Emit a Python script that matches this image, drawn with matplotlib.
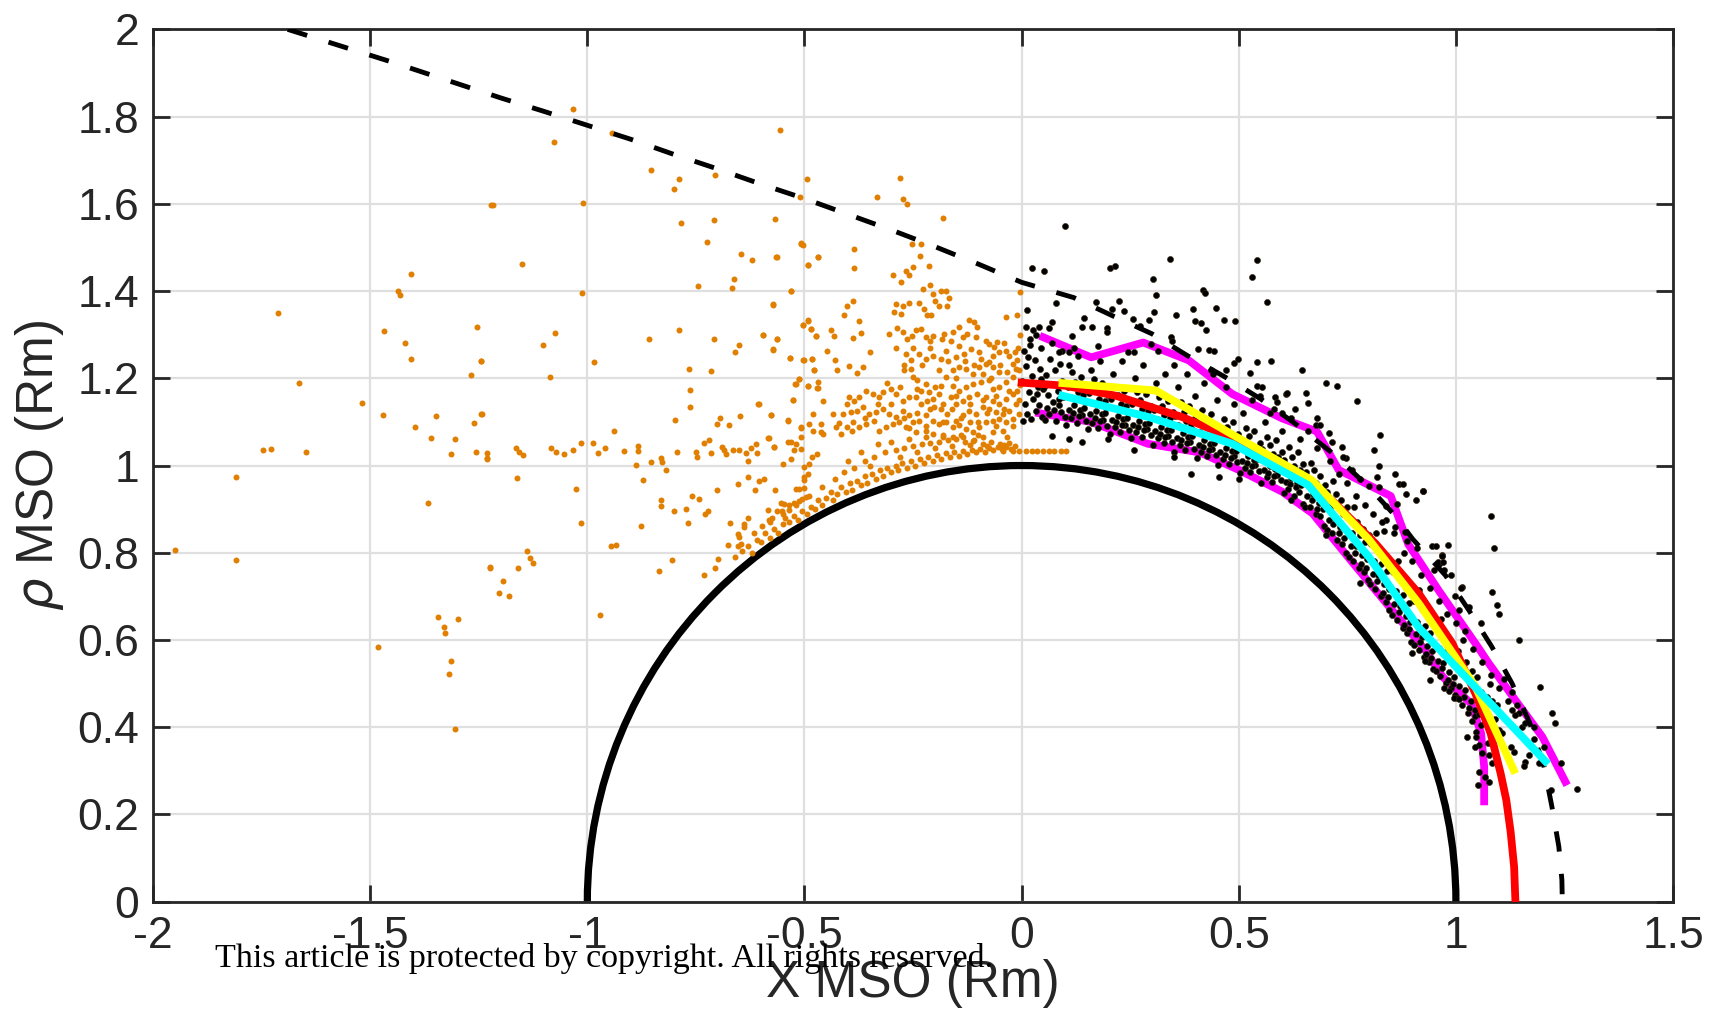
import numpy as np
import matplotlib
matplotlib.use('Agg')
import matplotlib.pyplot as plt
from matplotlib.patches import Arc

plt.rcParams['font.family'] = ['Liberation Sans', 'DejaVu Sans']
plt.rcParams['axes.unicode_minus'] = False
plt.rcParams['mathtext.fontset'] = 'dejavusans'

# ---- axis ticks ----
xticks = [-2, -1.5, -1, -0.5, 0, 0.5, 1, 1.5]
xticklabels = ['-2', '-1.5', '-1', '-0.5', '0', '0.5', '1', '1.5']
yticks = [0, 0.2, 0.4, 0.6, 0.8, 1, 1.2, 1.4, 1.6, 1.8, 2]
yticklabels = ['0', '0.2', '0.4', '0.6', '0.8', '1', '1.2', '1.4', '1.6', '1.8', '2']

# ---- planet radius (Rm) ----
planet_r = 1.0

# ---- bow shock model (dashed) ----
bs_x = [-1.69, -1.45, -1.20, -1.10, -1.00, -0.90, -0.80, -0.70, -0.60, -0.50, -0.40,
        -0.30, -0.20, -0.10, 0.00, 0.12, 0.21, 0.30, 0.38, 0.47, 0.55, 0.63, 0.72,
        0.80, 0.86, 0.90, 0.976, 1.03, 1.083, 1.129, 1.17, 1.203, 1.221, 1.237, 1.244, 1.245]
bs_y = [2.00, 1.925, 1.843, 1.812, 1.780, 1.748, 1.713, 1.680, 1.645, 1.612, 1.576,
        1.540, 1.502, 1.462, 1.420, 1.385, 1.343, 1.302, 1.253, 1.202, 1.153, 1.096, 1.025,
        0.950, 0.885, 0.832, 0.748, 0.668, 0.584, 0.501, 0.41, 0.309, 0.218, 0.126, 0.05, 0.0]

# ---- magnetopause model (red) ----
mp_x = [0.0, 0.1, 0.217, 0.37, 0.5, 0.57, 0.669, 0.72, 0.815, 0.915, 0.992, 1.045,
        1.080, 1.103, 1.116, 1.126, 1.134, 1.137]
mp_y = [1.19, 1.183, 1.160, 1.111, 1.057, 1.02, 0.958, 0.915, 0.821, 0.706, 0.592, 0.477,
        0.386, 0.294, 0.233, 0.160, 0.080, 0.0]

# ---- binned boundary fits ----
mag_up_x = [0.05, 0.16, 0.28, 0.385, 0.485, 0.60, 0.68, 0.73, 0.85, 0.89, 0.96, 1.045,
            1.076, 1.137, 1.199, 1.252]
mag_up_y = [1.294, 1.248, 1.282, 1.241, 1.164, 1.108, 1.078, 0.99, 0.93, 0.82, 0.714, 0.592,
            0.546, 0.462, 0.378, 0.275]
mag_lo_x = [0.04, 0.16, 0.29, 0.41, 0.50, 0.60, 0.67, 0.76, 0.93, 0.97, 1.035, 1.058, 1.065, 1.065]
mag_lo_y = [1.12, 1.10, 1.05, 1.03, 0.99, 0.94, 0.89, 0.78, 0.576, 0.515, 0.454, 0.386, 0.31, 0.23]
yel_x = [0.094, 0.309, 0.669, 0.80, 0.915, 1.045, 1.133]
yel_y = [1.189, 1.172, 0.966, 0.83, 0.683, 0.493, 0.302]
cyan_x = [0.094, 0.293, 0.485, 0.66, 0.80, 0.915, 1.206]
cyan_y = [1.160, 1.111, 1.050, 0.955, 0.79, 0.628, 0.322]

# ---- orange crossings (nightside), sparse points ----
orange_sparse = np.array([
    [-1.713, 1.350], [-1.406, 1.439], [-1.435, 1.399], [-1.432, 1.391], [-1.468, 1.308],
    [-1.419, 1.281], [-1.406, 1.245], [-1.255, 1.318], [-1.245, 1.240], [-1.268, 1.208],
    [-1.665, 1.190], [-1.519, 1.143], [-1.470, 1.115], [-1.348, 1.113], [-1.397, 1.088],
    [-1.360, 1.062], [-1.305, 1.061], [-1.262, 1.097], [-1.244, 1.117], [-1.314, 1.027],
    [-1.257, 1.031], [-1.230, 1.028], [-1.230, 1.016], [-1.747, 1.036], [-1.728, 1.037],
    [-1.647, 1.031], [-1.810, 0.973], [-1.367, 0.913], [-1.950, 0.807], [-1.810, 0.784],
    [-1.225, 0.767], [-1.345, 0.652], [-1.297, 0.648], [-1.331, 0.630], [-1.327, 0.617],
    [-1.482, 0.585], [-1.313, 0.553], [-1.318, 0.523], [-1.304, 0.395], [-1.221, 1.597],
    [-1.034, 1.818], [-1.077, 1.741], [-0.943, 1.762], [-0.854, 1.677], [-0.790, 1.657],
    [-0.800, 1.635], [-0.707, 1.667], [-0.556, 1.769], [-0.494, 1.656], [-0.510, 1.615],
    [-1.218, 1.598], [-1.009, 1.601], [-0.784, 1.556], [-0.709, 1.564], [-0.567, 1.566],
    [-0.725, 1.512], [-0.508, 1.510], [-0.504, 1.505], [-0.470, 1.479], [-0.491, 1.460],
    [-0.646, 1.485], [-0.620, 1.471], [-0.565, 1.478], [-1.150, 1.461], [-0.745, 1.411],
    [-0.663, 1.428], [-0.666, 1.406], [-0.530, 1.401], [-1.013, 1.395], [-0.573, 1.369],
    [-0.504, 1.322], [-0.492, 1.333], [-0.485, 1.314], [-0.474, 1.297], [-1.074, 1.304],
    [-1.103, 1.276], [-0.857, 1.289], [-0.788, 1.311], [-0.709, 1.289], [-0.596, 1.299],
    [-0.564, 1.289], [-0.573, 1.267], [-0.650, 1.276], [-0.661, 1.260], [-1.245, 1.240],
    [-0.984, 1.237], [-1.087, 1.202], [-0.765, 1.221], [-0.715, 1.216], [-0.534, 1.246],
    [-0.503, 1.241], [-0.482, 1.245], [-0.478, 1.219], [-0.512, 1.198], [-0.521, 1.186],
    [-0.491, 1.183], [-0.471, 1.178], [-0.764, 1.173], [-0.764, 1.135], [-0.527, 1.150],
    [-0.608, 1.140], [-1.243, 1.118], [-0.798, 1.104], [-0.694, 1.108], [-0.702, 1.096],
    [-0.674, 1.092], [-0.649, 1.113], [-0.577, 1.115], [-0.537, 1.104], [-0.508, 1.086],
    [-0.938, 1.079], [-1.230, 1.017], [-1.164, 1.040], [-1.157, 1.032], [-1.148, 1.024],
    [-1.084, 1.041], [-1.072, 1.030], [-1.054, 1.026], [-1.034, 1.035], [-1.015, 1.051],
    [-0.988, 1.052], [-0.976, 1.028], [-0.959, 1.040], [-0.916, 1.033], [-0.883, 1.045],
    [-0.884, 1.034], [-0.887, 1.002], [-0.854, 1.009], [-0.831, 1.017], [-0.828, 1.009],
    [-0.820, 0.989], [-0.794, 1.030], [-0.749, 1.032], [-0.748, 1.019], [-0.732, 1.052],
    [-0.719, 1.059], [-0.716, 1.029], [-0.690, 1.042], [-0.685, 1.035], [-0.681, 1.027],
    [-0.664, 1.035], [-0.650, 1.035], [-0.635, 1.029], [-0.629, 1.011], [-0.622, 1.041],
    [-0.612, 1.050], [-0.610, 1.029], [-0.583, 1.064], [-0.571, 1.042], [-0.539, 1.054],
    [-0.524, 1.036], [-0.549, 1.003], [-0.531, 1.016], [-0.520, 1.050], [-0.508, 1.038],
    [-0.501, 0.996], [-0.489, 1.004], [-0.482, 1.019], [-0.472, 1.027],
    [-1.162, 0.971], [-1.025, 0.946], [-0.872, 0.967], [-1.015, 0.868], [-0.877, 0.861],
    [-0.946, 0.815], [-0.934, 0.817], [-1.140, 0.803], [-1.131, 0.788], [-1.126, 0.777],
    [-1.224, 0.766], [-1.160, 0.766], [-1.194, 0.736], [-1.204, 0.707], [-1.181, 0.701],
    [-0.970, 0.658], [-0.830, 0.922], [-0.831, 0.908], [-0.801, 0.895], [-0.773, 0.900],
    [-0.768, 0.869], [-0.758, 0.931], [-0.742, 0.924], [-0.723, 0.895], [-0.728, 0.888],
    [-0.701, 0.945], [-0.654, 0.957], [-0.629, 0.974], [-0.614, 0.944], [-0.604, 0.964],
    [-0.593, 0.968], [-0.569, 0.944], [-0.584, 0.897], [-0.581, 0.874], [-0.575, 0.880],
    [-0.598, 0.861], [-0.617, 0.846], [-0.631, 0.880], [-0.640, 0.867], [-0.639, 0.859],
    [-0.671, 0.869], [-0.654, 0.842], [-0.650, 0.836], [-0.646, 0.821], [-0.654, 0.816],
    [-0.675, 0.818], [-0.699, 0.785], [-0.707, 0.766], [-0.731, 0.750], [-0.804, 0.784],
    [-0.834, 0.759], [-0.554, 0.914], [-0.547, 0.911], [-0.535, 0.909], [-0.524, 0.913],
    [-0.512, 0.919], [-0.505, 0.924], [-0.497, 0.928], [-0.512, 0.947], [-0.501, 0.949],
    [-0.520, 0.947], [-0.493, 0.981], [-0.501, 0.974], [-0.501, 0.966], [-0.551, 0.896],
    [-0.535, 0.897], [-0.564, 0.896],
    [-0.279, 1.660], [-0.274, 1.612], [-0.264, 1.600], [-0.334, 1.615], [-0.181, 1.567],
    [-0.252, 1.509],
])

# ---- orange dense cloud near the terminator ----
orange_cloud = np.array([
    [-0.508, 1.508], [-0.564, 1.477], [-0.468, 1.479], [-0.491, 1.460], [-0.386, 1.496],
    [-0.386, 1.453], [-0.530, 1.401], [-0.573, 1.370], [-0.297, 1.437], [-0.267, 1.447],
    [-0.251, 1.456], [-0.259, 1.437], [-0.277, 1.420], [-0.231, 1.509], [-0.234, 1.481],
    [-0.214, 1.458], [-0.228, 1.404], [-0.211, 1.414], [-0.205, 1.393], [-0.200, 1.378],
    [-0.185, 1.401], [-0.175, 1.401], [-0.168, 1.384], [-0.171, 1.366], [-0.190, 1.366],
    [-0.290, 1.370], [-0.274, 1.366], [-0.260, 1.373], [-0.293, 1.351], [-0.278, 1.347],
    [-0.236, 1.373], [-0.224, 1.359], [-0.217, 1.346], [-0.209, 1.344], [-0.389, 1.378],
    [-0.401, 1.366], [-0.410, 1.346], [-0.374, 1.332], [-0.369, 1.303], [-0.389, 1.292],
    [-0.439, 1.311], [-0.431, 1.296], [-0.447, 1.263], [-0.504, 1.323], [-0.493, 1.332],
    [-0.485, 1.314], [-0.474, 1.296], [-0.595, 1.299], [-0.563, 1.289], [-0.573, 1.266],
    [-0.534, 1.246], [-0.502, 1.242], [-0.483, 1.244], [-0.478, 1.220], [-0.429, 1.241],
    [-0.424, 1.220], [-0.397, 1.228], [-0.378, 1.212], [-0.366, 1.226], [-0.349, 1.260],
    [-0.520, 1.187], [-0.512, 1.199], [-0.491, 1.182], [-0.468, 1.191], [-0.470, 1.177],
    [-0.527, 1.150], [-0.458, 1.147], [-0.604, 1.141], [-0.577, 1.115], [-0.537, 1.103],
    [-0.508, 1.088], [-0.489, 1.096], [-0.481, 1.079], [-0.462, 1.076], [-0.508, 1.065],
    [-0.531, 1.054], [-0.570, 1.042], [-0.581, 1.063],
    [-0.305, 1.302], [-0.286, 1.315], [-0.273, 1.305], [-0.263, 1.290], [-0.253, 1.298],
    [-0.244, 1.311], [-0.232, 1.313], [-0.221, 1.294], [-0.211, 1.286], [-0.205, 1.298],
    [-0.184, 1.290], [-0.178, 1.302], [-0.163, 1.286], [-0.158, 1.305], [-0.144, 1.318],
    [-0.136, 1.294], [-0.121, 1.334], [-0.109, 1.328], [-0.102, 1.318], [-0.125, 1.302],
    [-0.106, 1.294], [-0.083, 1.286], [-0.075, 1.279], [-0.063, 1.271], [-0.056, 1.283],
    [-0.040, 1.280], [-0.037, 1.263], [-0.052, 1.260], [-0.067, 1.252], [-0.075, 1.237],
    [-0.098, 1.260], [-0.094, 1.244], [-0.117, 1.267], [-0.132, 1.256], [-0.144, 1.275],
    [-0.152, 1.248], [-0.175, 1.263], [-0.186, 1.244], [-0.205, 1.252], [-0.221, 1.244],
    [-0.236, 1.256], [-0.255, 1.241], [-0.267, 1.256], [-0.270, 1.218], [-0.255, 1.221],
    [-0.251, 1.202], [-0.240, 1.195], [-0.221, 1.187], [-0.232, 1.172], [-0.213, 1.168],
    [-0.205, 1.153], [-0.190, 1.164], [-0.186, 1.183], [-0.175, 1.202], [-0.159, 1.218],
    [-0.144, 1.225], [-0.129, 1.221], [-0.113, 1.210], [-0.098, 1.225], [-0.083, 1.233],
    [-0.067, 1.225], [-0.052, 1.214], [-0.033, 1.214], [-0.021, 1.233], [-0.010, 1.241],
    [-0.014, 1.221], [-0.021, 1.202], [-0.037, 1.191], [-0.052, 1.179], [-0.067, 1.176],
    [-0.075, 1.195], [-0.094, 1.191], [-0.113, 1.187], [-0.129, 1.179], [-0.144, 1.172],
    [-0.159, 1.183], [-0.163, 1.157], [-0.152, 1.141], [-0.136, 1.149], [-0.121, 1.157],
    [-0.102, 1.164], [-0.083, 1.157], [-0.067, 1.149], [-0.052, 1.141], [-0.037, 1.153],
    [-0.021, 1.164], [-0.010, 1.172], [-0.014, 1.141], [-0.029, 1.126], [-0.044, 1.118],
    [-0.060, 1.122], [-0.075, 1.130], [-0.090, 1.134], [-0.106, 1.118], [-0.121, 1.126],
    [-0.136, 1.115], [-0.152, 1.103], [-0.171, 1.118], [-0.186, 1.130], [-0.201, 1.134],
    [-0.217, 1.149], [-0.232, 1.141], [-0.244, 1.157], [-0.259, 1.157], [-0.274, 1.149],
    [-0.290, 1.164], [-0.301, 1.176], [-0.320, 1.168], [-0.328, 1.157], [-0.343, 1.164],
    [-0.359, 1.172], [-0.374, 1.157], [-0.385, 1.149], [-0.397, 1.157], [-0.401, 1.141],
    [-0.393, 1.122], [-0.378, 1.126], [-0.366, 1.134], [-0.351, 1.118], [-0.336, 1.122],
    [-0.320, 1.130], [-0.305, 1.118], [-0.290, 1.111], [-0.274, 1.126], [-0.259, 1.115],
    [-0.251, 1.099], [-0.236, 1.103], [-0.221, 1.115], [-0.205, 1.103], [-0.190, 1.096],
    [-0.175, 1.099], [-0.159, 1.088], [-0.144, 1.092], [-0.129, 1.084], [-0.113, 1.077],
    [-0.098, 1.088], [-0.083, 1.099], [-0.067, 1.103], [-0.052, 1.107], [-0.037, 1.099],
    [-0.021, 1.107], [-0.006, 1.118], [-0.412, 1.118], [-0.420, 1.097], [-0.435, 1.118],
    [-0.428, 1.088], [-0.416, 1.073], [-0.401, 1.088], [-0.389, 1.099], [-0.374, 1.088],
    [-0.359, 1.096], [-0.340, 1.103], [-0.328, 1.080], [-0.313, 1.088], [-0.297, 1.096],
    [-0.282, 1.099], [-0.267, 1.088], [-0.244, 1.077], [-0.221, 1.080], [-0.205, 1.073],
    [-0.182, 1.065], [-0.159, 1.065], [-0.136, 1.065], [-0.113, 1.057], [-0.090, 1.065],
    [-0.067, 1.077], [-0.044, 1.080], [-0.033, 1.065], [-0.481, 1.118], [-0.462, 1.096],
    [-0.458, 1.073], [-0.004, 1.397], [-0.037, 1.340], [-0.010, 1.344], [-0.004, 1.300],
    [-0.008, 1.270], [-0.003, 1.185],
    [-0.290, 1.270], [-0.270, 1.230], [-0.250, 1.270], [-0.230, 1.230], [-0.210, 1.270],
    [-0.190, 1.220], [-0.170, 1.240], [-0.150, 1.200], [-0.130, 1.240], [-0.110, 1.230],
    [-0.090, 1.210], [-0.070, 1.200], [-0.050, 1.230], [-0.030, 1.250], [-0.015, 1.260],
    [-0.005, 1.220], [-0.005, 1.150], [-0.030, 1.170], [-0.060, 1.160], [-0.090, 1.150],
    [-0.120, 1.140], [-0.150, 1.160], [-0.180, 1.140], [-0.210, 1.130], [-0.240, 1.120],
    [-0.270, 1.110], [-0.300, 1.140], [-0.330, 1.140], [-0.360, 1.110], [-0.390, 1.080],
    [-0.310, 1.190], [-0.280, 1.180], [-0.240, 1.175], [-0.200, 1.180], [-0.160, 1.130],
    [-0.120, 1.100], [-0.080, 1.120], [-0.040, 1.130], [-0.020, 1.090], [-0.060, 1.090],
    [-0.100, 1.100], [-0.140, 1.110], [-0.180, 1.100], [-0.220, 1.090], [-0.260, 1.085],
])

# ---- orange band hugging the planet ----
orange_band = np.array([
    [-0.660, 0.790], [-0.645, 0.805], [-0.630, 0.815], [-0.620, 0.800], [-0.610, 0.830],
    [-0.600, 0.825], [-0.590, 0.845], [-0.580, 0.835], [-0.570, 0.855], [-0.560, 0.845],
    [-0.550, 0.865], [-0.545, 0.880], [-0.535, 0.870], [-0.525, 0.885], [-0.515, 0.875],
    [-0.505, 0.895], [-0.495, 0.890], [-0.485, 0.905], [-0.475, 0.900], [-0.470, 0.920],
    [-0.460, 0.910], [-0.450, 0.925], [-0.440, 0.940], [-0.435, 0.920], [-0.425, 0.935],
    [-0.415, 0.950], [-0.405, 0.940], [-0.395, 0.960], [-0.390, 0.945], [-0.380, 0.965],
    [-0.370, 0.955], [-0.360, 0.975], [-0.355, 0.960], [-0.345, 0.980], [-0.335, 0.970],
    [-0.325, 0.990], [-0.320, 0.975], [-0.310, 0.995], [-0.300, 0.985], [-0.290, 1.000],
    [-0.285, 0.990], [-0.275, 1.005], [-0.265, 0.995], [-0.255, 1.010], [-0.245, 1.000],
    [-0.235, 1.015], [-0.225, 1.005], [-0.215, 1.020], [-0.205, 1.010], [-0.195, 1.025],
    [-0.185, 1.015], [-0.175, 1.028], [-0.165, 1.020], [-0.155, 1.030], [-0.145, 1.022],
    [-0.135, 1.033], [-0.125, 1.026], [-0.115, 1.036], [-0.105, 1.030], [-0.095, 1.038],
    [-0.085, 1.032], [-0.075, 1.040], [-0.065, 1.035], [-0.055, 1.042], [-0.045, 1.037],
    [-0.035, 1.043], [-0.025, 1.038], [-0.015, 1.044],
    [-0.580, 0.870], [-0.550, 0.890], [-0.520, 0.910], [-0.490, 0.930], [-0.460, 0.950],
    [-0.430, 0.970], [-0.410, 0.985], [-0.385, 0.995], [-0.360, 1.010], [-0.340, 1.020],
    [-0.315, 1.030], [-0.290, 1.035], [-0.270, 1.040], [-0.250, 1.045], [-0.230, 1.050],
    [-0.210, 1.052], [-0.190, 1.055], [-0.170, 1.058], [-0.150, 1.060], [-0.130, 1.055],
    [-0.110, 1.058], [-0.090, 1.050], [-0.070, 1.055], [-0.050, 1.050], [-0.030, 1.052],
    [-0.400, 1.010], [-0.370, 1.030], [-0.330, 1.050], [-0.300, 1.055], [-0.260, 1.060],
    [-0.220, 1.065], [-0.180, 1.070], [-0.140, 1.070], [-0.100, 1.070], [-0.350, 1.000],
    [-0.280, 1.020], [-0.240, 1.030], [-0.200, 1.040], [-0.160, 1.045], [-0.120, 1.047],
    [-0.080, 1.045], [-0.040, 1.046],
    [-0.044, 1.034], [-0.021, 1.034], [-0.006, 1.034], [0.009, 1.034], [0.025, 1.033],
    [0.036, 1.034], [0.050, 1.033], [0.062, 1.034], [0.075, 1.033], [0.090, 1.034],
    [0.102, 1.033],
])

# ---- black crossings (dayside), scattered points ----
black_sparse = np.array([
    [0.100, 1.550], [0.023, 1.454], [0.052, 1.445], [0.203, 1.453], [0.215, 1.458],
    [0.341, 1.473], [0.303, 1.427], [0.309, 1.391], [0.541, 1.472], [0.530, 1.433],
    [0.566, 1.376], [0.418, 1.403], [0.422, 1.395], [0.394, 1.358], [0.448, 1.362],
    [0.466, 1.334], [0.491, 1.331], [0.399, 1.332], [0.412, 1.326], [0.424, 1.311],
    [0.356, 1.345], [0.305, 1.351], [0.293, 1.334], [0.257, 1.337], [0.272, 1.321],
    [0.224, 1.378], [0.209, 1.359], [0.236, 1.354], [0.171, 1.376], [0.144, 1.338],
    [0.138, 1.317], [0.163, 1.318], [0.196, 1.315], [0.197, 1.306], [0.079, 1.372],
    [0.115, 1.298], [0.012, 1.357], [0.010, 1.317], [0.026, 1.311], [0.040, 1.318],
    [0.063, 1.315], [0.071, 1.328], [0.177, 1.275], [0.094, 1.263], [0.109, 1.260],
    [0.259, 1.260], [0.343, 1.294], [0.347, 1.285], [0.297, 1.279], [0.313, 1.263],
    [0.405, 1.267], [0.431, 1.265], [0.443, 1.263], [0.435, 1.218], [0.470, 1.218],
    [0.488, 1.235], [0.498, 1.244], [0.525, 1.212], [0.543, 1.237], [0.541, 1.183],
    [0.554, 1.179], [0.583, 1.157], [0.589, 1.145], [0.608, 1.164], [0.573, 1.120],
    [0.600, 1.120], [0.574, 1.239], [0.646, 1.218], [0.702, 1.190], [0.727, 1.182],
    [0.773, 1.147], [0.612, 1.166], [0.654, 1.166], [0.660, 1.143], [0.679, 1.109],
    [0.677, 1.094], [0.687, 1.093], [0.708, 1.074], [0.715, 1.055], [0.825, 1.071],
    [0.811, 1.036], [0.748, 1.018], [0.738, 1.042], [0.823, 1.000], [0.819, 0.973],
    [0.860, 0.981], [0.800, 0.954], [0.823, 0.950], [0.869, 0.957], [0.878, 0.957],
    [0.884, 0.934], [0.907, 0.922], [0.924, 0.942], [0.865, 0.912], [0.838, 0.908],
    [0.838, 0.874], [0.834, 0.851], [0.857, 0.845], [0.883, 0.847], [0.888, 0.828],
    [0.945, 0.815], [0.953, 0.815], [0.982, 0.817], [0.968, 0.796], [0.961, 0.775],
    [0.972, 0.760], [0.988, 0.748], [1.013, 0.722], [0.999, 0.701], [1.007, 0.668],
    [1.030, 0.676], [0.924, 0.941], [1.080, 0.884], [1.087, 0.811], [0.967, 0.792],
    [0.959, 0.779], [0.971, 0.779], [1.082, 0.709], [1.095, 0.680], [1.099, 0.659],
    [1.057, 0.638], [1.012, 0.720], [1.146, 0.600], [1.193, 0.492], [1.222, 0.432],
    [1.228, 0.409], [1.241, 0.317], [1.279, 0.258], [1.220, 0.256], [1.025, 0.377],
    [1.047, 0.378], [1.045, 0.355], [1.053, 0.298], [1.067, 0.287], [1.076, 0.275],
    [1.051, 0.268], [1.082, 0.317], [1.077, 0.336], [1.074, 0.363], [1.057, 0.405],
    [1.080, 0.409], [1.099, 0.393], [1.107, 0.386], [1.126, 0.355], [1.133, 0.344],
    [1.160, 0.321], [1.168, 0.336], [1.156, 0.310], [1.191, 0.317], [1.180, 0.374],
    [1.202, 0.355], [1.153, 0.401], [1.130, 0.439], [1.145, 0.432], [1.137, 0.428],
    [0.940, 0.508], [0.972, 0.489], [0.985, 0.483], [0.995, 0.466], [1.007, 0.464],
    [0.928, 0.551], [0.389, 0.981], [0.455, 0.973], [0.140, 1.054], [0.071, 1.067],
    [0.259, 1.035], [0.108, 1.061],
    [0.020, 1.290], [0.045, 1.270], [0.070, 1.280], [0.085, 1.260], [0.033, 1.300],
    [0.110, 1.230], [0.130, 1.250], [0.160, 1.220], [0.180, 1.240], [0.210, 1.210],
    [0.230, 1.240], [0.260, 1.200], [0.280, 1.230], [0.120, 1.270], [0.245, 1.260],
    [0.310, 1.190], [0.330, 1.210], [0.360, 1.180], [0.380, 1.210], [0.400, 1.160],
    [0.420, 1.190], [0.450, 1.150], [0.470, 1.180], [0.490, 1.140], [0.350, 1.230],
    [0.440, 1.210], [0.510, 1.120], [0.530, 1.150], [0.560, 1.100], [0.580, 1.130],
    [0.600, 1.080], [0.620, 1.110], [0.640, 1.060], [0.660, 1.080], [0.680, 1.040],
    [0.550, 1.160], [0.630, 1.130], [0.710, 1.010], [0.730, 0.980], [0.750, 0.960],
    [0.770, 0.930], [0.790, 0.910], [0.740, 1.020], [0.780, 0.970], [0.810, 0.890],
    [0.830, 0.870], [0.760, 0.990], [0.860, 0.860], [0.880, 0.800], [0.900, 0.780],
    [0.920, 0.750], [0.940, 0.720], [0.960, 0.690], [0.980, 0.660], [1.000, 0.640],
    [1.020, 0.620], [1.040, 0.580], [0.910, 0.810], [0.950, 0.760], [1.060, 0.550],
    [1.080, 0.520], [1.100, 0.490], [1.120, 0.460], [1.140, 0.450], [1.160, 0.410],
    [1.180, 0.400], [1.110, 0.510], [1.130, 0.480], [0.200, 1.060], [0.350, 1.020],
    [0.500, 0.970], [0.620, 0.920], [0.700, 0.840], [0.780, 0.730], [0.900, 0.570],
])

# ---- black crossings, dense band ----
black_band = np.array([
    [0.004, 1.102], [0.012, 1.118], [0.021, 1.107], [0.033, 1.125], [0.046, 1.112],
    [0.008, 1.141], [0.027, 1.152], [0.041, 1.138], [0.016, 1.169], [0.038, 1.181],
    [0.002, 1.193], [0.024, 1.206], [0.045, 1.199], [0.011, 1.228], [0.031, 1.241],
    [0.006, 1.262], [0.019, 1.277], [0.043, 1.221], [0.035, 1.163], [0.049, 1.176],
    [0.014, 1.249],
    [0.053, 1.104], [0.064, 1.117], [0.078, 1.101], [0.091, 1.122], [0.058, 1.133],
    [0.072, 1.145], [0.087, 1.139], [0.096, 1.156], [0.061, 1.162], [0.083, 1.171],
    [0.069, 1.188], [0.094, 1.194], [0.056, 1.207], [0.077, 1.219], [0.089, 1.232],
    [0.066, 1.245], [0.099, 1.111], [0.074, 1.128], [0.085, 1.152], [0.052, 1.179],
    [0.103, 1.094], [0.114, 1.108], [0.127, 1.097], [0.139, 1.115], [0.148, 1.102],
    [0.108, 1.128], [0.121, 1.139], [0.134, 1.127], [0.145, 1.146], [0.112, 1.157],
    [0.129, 1.168], [0.141, 1.161], [0.106, 1.179], [0.124, 1.191], [0.137, 1.204],
    [0.117, 1.215], [0.149, 1.184], [0.131, 1.113], [0.119, 1.121], [0.143, 1.132],
    [0.152, 1.083], [0.163, 1.097], [0.176, 1.086], [0.188, 1.104], [0.197, 1.091],
    [0.157, 1.117], [0.171, 1.126], [0.184, 1.118], [0.195, 1.133], [0.161, 1.144],
    [0.178, 1.152], [0.191, 1.147], [0.154, 1.166], [0.173, 1.175], [0.186, 1.189],
    [0.166, 1.198], [0.199, 1.162], [0.181, 1.101], [0.168, 1.109], [0.193, 1.121],
    [0.203, 1.073], [0.214, 1.088], [0.227, 1.077], [0.238, 1.094], [0.247, 1.081],
    [0.208, 1.105], [0.221, 1.114], [0.234, 1.107], [0.245, 1.121], [0.211, 1.132],
    [0.228, 1.141], [0.241, 1.136], [0.205, 1.153], [0.223, 1.161], [0.236, 1.172],
    [0.216, 1.179], [0.249, 1.149], [0.231, 1.092], [0.218, 1.099], [0.243, 1.108],
    [0.252, 1.062], [0.264, 1.076], [0.277, 1.066], [0.288, 1.083], [0.297, 1.069],
    [0.257, 1.094], [0.271, 1.103], [0.284, 1.096], [0.295, 1.111], [0.261, 1.121],
    [0.278, 1.129], [0.291, 1.124], [0.254, 1.142], [0.273, 1.151], [0.286, 1.163],
    [0.266, 1.168], [0.299, 1.137], [0.281, 1.081], [0.268, 1.088], [0.293, 1.097],
    [0.303, 1.047], [0.314, 1.062], [0.327, 1.051], [0.338, 1.068], [0.347, 1.054],
    [0.308, 1.079], [0.321, 1.089], [0.334, 1.081], [0.345, 1.096], [0.311, 1.106],
    [0.328, 1.115], [0.341, 1.109], [0.304, 1.128], [0.323, 1.137], [0.336, 1.149],
    [0.316, 1.156], [0.349, 1.123], [0.331, 1.066], [0.318, 1.073], [0.343, 1.082],
    [0.352, 1.032], [0.364, 1.047], [0.377, 1.036], [0.388, 1.053], [0.397, 1.039],
    [0.357, 1.064], [0.371, 1.074], [0.384, 1.066], [0.395, 1.081], [0.361, 1.092],
    [0.378, 1.101], [0.391, 1.095], [0.354, 1.114], [0.373, 1.123], [0.386, 1.136],
    [0.366, 1.146], [0.399, 1.108], [0.381, 1.051], [0.368, 1.058], [0.393, 1.067],
    [0.403, 1.017], [0.414, 1.031], [0.427, 1.021], [0.438, 1.037], [0.447, 1.023],
    [0.408, 1.048], [0.421, 1.058], [0.434, 1.050], [0.445, 1.065], [0.411, 1.076],
    [0.428, 1.085], [0.441, 1.079], [0.404, 1.097], [0.423, 1.106], [0.436, 1.118],
    [0.416, 1.127], [0.449, 1.091], [0.431, 1.035], [0.418, 1.042], [0.443, 1.051],
    [0.452, 1.001], [0.464, 1.015], [0.477, 1.004], [0.488, 1.021], [0.497, 1.007],
    [0.457, 1.031], [0.471, 1.041], [0.484, 1.033], [0.495, 1.048], [0.461, 1.058],
    [0.478, 1.067], [0.491, 1.061], [0.454, 1.079], [0.473, 1.088], [0.486, 1.099],
    [0.466, 1.107], [0.499, 1.072], [0.481, 1.018], [0.468, 1.025], [0.493, 1.034],
    [0.503, 0.982], [0.514, 0.995], [0.527, 0.985], [0.538, 1.001], [0.547, 0.988],
    [0.508, 1.011], [0.521, 1.021], [0.534, 1.013], [0.545, 1.028], [0.511, 1.038],
    [0.528, 1.047], [0.541, 1.041], [0.504, 1.059], [0.523, 1.068], [0.536, 1.079],
    [0.516, 1.087], [0.549, 1.052], [0.531, 0.998], [0.518, 1.005], [0.543, 1.014],
    [0.552, 0.961], [0.564, 0.974], [0.577, 0.963], [0.588, 0.979], [0.597, 0.966],
    [0.557, 0.990], [0.571, 1.000], [0.584, 0.992], [0.595, 1.007], [0.561, 1.017],
    [0.578, 1.026], [0.591, 1.020], [0.554, 1.038], [0.573, 1.047], [0.586, 1.058],
    [0.566, 1.066], [0.599, 1.031], [0.581, 0.977], [0.568, 0.984], [0.593, 0.993],
    [0.603, 0.937], [0.614, 0.946], [0.627, 0.931], [0.638, 0.940], [0.647, 0.912],
    [0.608, 0.963], [0.621, 0.972], [0.634, 0.961], [0.645, 0.975], [0.611, 0.990],
    [0.628, 0.998], [0.641, 0.990], [0.604, 1.012], [0.623, 1.020], [0.636, 1.031],
    [0.616, 1.043], [0.649, 1.003], [0.631, 0.950], [0.618, 0.957], [0.643, 0.955],
    [0.653, 0.905], [0.664, 0.906], [0.677, 0.888], [0.688, 0.885], [0.697, 0.862],
    [0.658, 0.930], [0.671, 0.935], [0.684, 0.915], [0.695, 0.925], [0.661, 0.955],
    [0.678, 0.960], [0.691, 0.945], [0.654, 0.985], [0.673, 0.990], [0.686, 0.975],
    [0.666, 1.005], [0.699, 0.955], [0.681, 0.900], [0.668, 0.920], [0.693, 0.900],
    [0.703, 0.852], [0.714, 0.845], [0.727, 0.830], [0.738, 0.820], [0.747, 0.800],
    [0.708, 0.875], [0.721, 0.880], [0.734, 0.860], [0.745, 0.855], [0.711, 0.905],
    [0.728, 0.905], [0.741, 0.890], [0.704, 0.940], [0.723, 0.935], [0.736, 0.920],
    [0.716, 0.965], [0.749, 0.905], [0.731, 0.845], [0.718, 0.865], [0.743, 0.835],
    [0.753, 0.790], [0.764, 0.782], [0.777, 0.765], [0.788, 0.755], [0.797, 0.737],
    [0.758, 0.815], [0.771, 0.815], [0.784, 0.795], [0.795, 0.785], [0.761, 0.845],
    [0.778, 0.840], [0.791, 0.825], [0.754, 0.880], [0.773, 0.870], [0.786, 0.855],
    [0.766, 0.905], [0.799, 0.840], [0.781, 0.775], [0.768, 0.800], [0.793, 0.765],
    [0.803, 0.728], [0.814, 0.718], [0.827, 0.700], [0.838, 0.688], [0.847, 0.668],
    [0.808, 0.752], [0.821, 0.750], [0.834, 0.728], [0.845, 0.716], [0.811, 0.782],
    [0.828, 0.775], [0.841, 0.758], [0.804, 0.820], [0.823, 0.808], [0.836, 0.790],
    [0.816, 0.845], [0.849, 0.775], [0.831, 0.708], [0.818, 0.735], [0.843, 0.698],
    [0.853, 0.658], [0.864, 0.647], [0.877, 0.628], [0.888, 0.615], [0.897, 0.595],
    [0.858, 0.683], [0.871, 0.678], [0.884, 0.655], [0.895, 0.642], [0.861, 0.712],
    [0.878, 0.703], [0.891, 0.685], [0.854, 0.755], [0.873, 0.740], [0.886, 0.720],
    [0.866, 0.780], [0.899, 0.705], [0.881, 0.635], [0.868, 0.665], [0.893, 0.625],
    [0.903, 0.588], [0.914, 0.578], [0.927, 0.562], [0.938, 0.550], [0.947, 0.534],
    [0.908, 0.613], [0.921, 0.608], [0.934, 0.587], [0.945, 0.575], [0.911, 0.642],
    [0.928, 0.633], [0.941, 0.616], [0.904, 0.690], [0.923, 0.672], [0.936, 0.652],
    [0.916, 0.715], [0.949, 0.640], [0.931, 0.568], [0.918, 0.595], [0.943, 0.558],
    [0.953, 0.528], [0.964, 0.518], [0.977, 0.502], [0.988, 0.490], [0.997, 0.473],
    [0.958, 0.553], [0.971, 0.548], [0.984, 0.527], [0.995, 0.515], [0.961, 0.582],
    [0.978, 0.573], [0.991, 0.556], [0.954, 0.625], [0.973, 0.608], [0.986, 0.590],
    [0.966, 0.648], [0.999, 0.575], [0.981, 0.508], [0.968, 0.535], [0.993, 0.498],
    [1.003, 0.468], [1.014, 0.452], [1.027, 0.432], [1.038, 0.415], [1.047, 0.390],
    [1.008, 0.495], [1.021, 0.485], [1.034, 0.460], [1.045, 0.440], [1.011, 0.525],
    [1.028, 0.510], [1.041, 0.490], [1.004, 0.575], [1.023, 0.550], [1.036, 0.530],
    [1.016, 0.600], [1.049, 0.515], [1.031, 0.445], [1.018, 0.470], [1.043, 0.425],
    [1.053, 0.430], [1.062, 0.450], [1.071, 0.470], [1.058, 0.480], [1.083, 0.460],
    [1.090, 0.420], [1.066, 0.410], [1.095, 0.450], [1.078, 0.500], [1.052, 0.360],
    [1.061, 0.340], [1.087, 0.390],
])

orange = '#E07F00'

fig = plt.figure(figsize=(17.1, 10.19), dpi=100)
ax = fig.add_axes([0.0895, 0.1151, 0.8889, 0.8561])

ax.add_patch(Arc((0, 0), 2 * planet_r, 2 * planet_r, theta1=0, theta2=180,
                 color='black', lw=5.2, zorder=2))

for pts in (orange_sparse, orange_cloud, orange_band):
    ax.plot(pts[:, 0], pts[:, 1], 'o', color=orange, ms=4.3, mew=0, zorder=3)

ax.plot(mag_up_x, mag_up_y, color='#FF00FF', lw=5.6, zorder=4)
ax.plot(mag_lo_x, mag_lo_y, color='#FF00FF', lw=5.6, zorder=4)

for pts in (black_band, black_sparse):
    ax.plot(pts[:, 0], pts[:, 1], 'o', color='black', ms=4.4, mew=0.4,
            mec='#3a2a12', zorder=5)

ax.plot(bs_x, bs_y, color='black', lw=3.5, linestyle=(0, (4.2, 4.6)), zorder=6)
ax.plot(mp_x, mp_y, color='#FF0000', lw=5.6, zorder=7)
ax.plot(yel_x, yel_y, color='#FFFF00', lw=5.6, zorder=8)
ax.plot(cyan_x, cyan_y, color='#00FFFF', lw=5.6, zorder=9)

ax.set_xlim(-2, 1.5)
ax.set_ylim(0, 2)
ax.set_xticks(xticks)
ax.set_xticklabels(xticklabels)
ax.set_yticks(yticks)
ax.set_yticklabels(yticklabels)
ax.tick_params(direction='in', length=12, width=2, top=True, right=True,
               labelsize=32, pad=10, colors='#262626')
ax.grid(True, color='#dfdfdf', lw=1.6)
ax.set_axisbelow(True)
for s in ax.spines.values():
    s.set_linewidth(2)
    s.set_color('#262626')

ax.set_xlabel('X MSO (Rm)', fontsize=37, color='#262626', labelpad=2)
ax.set_ylabel(r'$\rho$ MSO (Rm)', fontsize=37, color='#262626', labelpad=8)

fig.text(0.3532, 0.059, 'This article is protected by copyright. All rights reserved.',
         ha='center', va='center', fontsize=24.5, family='Liberation Serif',
         color='black', zorder=20)

fig.savefig('out.png', dpi=100)
